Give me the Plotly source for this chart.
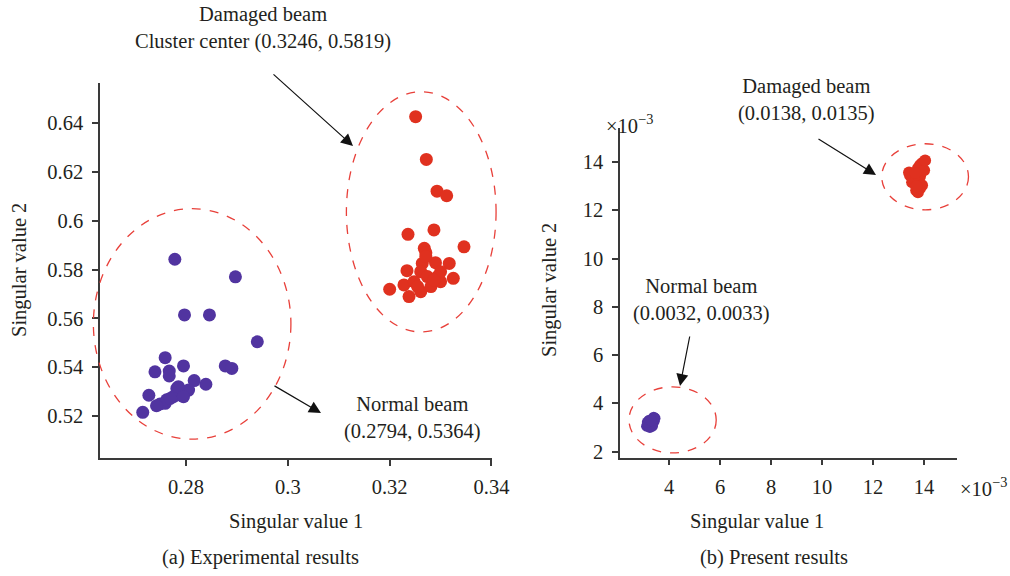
import plotly.graph_objects as go

# ---------------- data ----------------
# (a) Experimental results
exp_normal_x = [0.2778, 0.2897, 0.2797, 0.2846, 0.2940, 0.2759, 0.2795, 0.2739, 0.2767, 0.2767,
                0.2877, 0.2890, 0.2816, 0.2839, 0.2727, 0.2715, 0.2782, 0.2798, 0.2788, 0.2775,
                0.2762, 0.2749, 0.2759, 0.2805, 0.2769, 0.2742, 0.2785, 0.2795]
exp_normal_y = [0.5842, 0.5770, 0.5614, 0.5614, 0.5504, 0.5439, 0.5405, 0.5381, 0.5384, 0.5364,
                0.5405, 0.5395, 0.5345, 0.5330, 0.5285, 0.5215, 0.5313, 0.5300, 0.5286, 0.5279,
                0.5266, 0.5249, 0.5252, 0.5306, 0.5272, 0.5242, 0.5320, 0.5279]
exp_damaged_x = [0.3251, 0.3272, 0.3293, 0.3312, 0.3236, 0.3287, 0.3346, 0.3268, 0.3271, 0.3264,
                 0.3290, 0.3317, 0.3234, 0.3261, 0.3300, 0.3325, 0.3200, 0.3228, 0.3238, 0.3261,
                 0.3281, 0.3300, 0.3248, 0.3274, 0.3294, 0.3255, 0.3287, 0.3271]
exp_damaged_y = [0.6426, 0.6251, 0.6121, 0.6102, 0.5944, 0.5962, 0.5893, 0.5887, 0.5869, 0.5825,
                 0.5828, 0.5825, 0.5795, 0.5791, 0.5791, 0.5764, 0.5719, 0.5737, 0.5689, 0.5709,
                 0.5730, 0.5750, 0.5750, 0.5771, 0.5771, 0.5730, 0.5757, 0.5853]

# (b) Present results (values in units of 1e-3)
pre_normal_x = [3.12, 3.20, 3.28, 3.35, 3.42, 3.45, 3.40, 3.30, 3.18, 3.25, 3.35, 3.15, 3.22, 3.38, 3.30]
pre_normal_y = [3.05, 3.08, 3.10, 3.15, 3.25, 3.38, 3.42, 3.20, 3.15, 3.00, 3.05, 3.22, 3.30, 3.35, 3.28]
pre_damaged_x = [13.84, 13.92, 13.76, 13.45, 13.61, 13.84, 13.53, 13.76, 13.69, 13.76, 13.84, 13.92,
                 13.41, 14.00, 14.04, 13.65, 13.70]
pre_damaged_y = [13.87, 13.95, 13.74, 13.45, 13.32, 13.41, 13.16, 13.12, 12.83, 12.75, 12.91, 13.04,
                 13.57, 13.66, 14.07, 13.55, 13.00]

# cluster ellipses: (cx, cy, rx, ry) in data units
exp_ellipses = [(0.2812, 0.5577, 0.0194, 0.0472), (0.3262, 0.6036, 0.0147, 0.0492)]
pre_ellipses = [(4.14, 3.31, 1.71, 1.37), (14.04, 13.39, 1.70, 1.37)]

x1_ticks = [0.28, 0.30, 0.32, 0.34]
x1_ticktext = ["0.28", "0.3", "0.32", "0.34"]
y1_ticks = [0.52, 0.54, 0.56, 0.58, 0.60, 0.62, 0.64]
y1_ticktext = ["0.52", "0.54", "0.56", "0.58", "0.6", "0.62", "0.64"]
x2_ticks = [4, 6, 8, 10, 12, 14]
y2_ticks = [2, 4, 6, 8, 10, 12, 14]

# ---------------- layout geometry ----------------
W, H = 1010, 576
FONT = "Liberation Serif, Times New Roman, serif"
TXT = "#231F20"
AX = "#3a3a3a"
PURPLE = "#5134A0"
RED = "#E0311F"

x1_range = [0.2631, 0.3401]
y1_range = [0.50279, 0.65639]
x2_range = [2.078, 15.29]
y2_range = [1.743, 15.40]
x1_dom = [100 / W, 492 / W]
y1_dom = [1 - 458 / H, 1 - 83 / H]
x2_dom = [620 / W, 957 / W]
y2_dom = [1 - 457.7 / H, 1 - 128.3 / H]


def px(x):
    return x / W


def py(y):
    return 1 - y / H


def data_to_paper(v, rng, dom):
    return dom[0] + (v - rng[0]) / (rng[1] - rng[0]) * (dom[1] - dom[0])


fig = go.Figure()

fig.add_trace(go.Scatter(x=exp_normal_x, y=exp_normal_y, mode="markers", xaxis="x", yaxis="y",
                         marker=dict(color=PURPLE, size=13, line=dict(width=0)), showlegend=False))
fig.add_trace(go.Scatter(x=exp_damaged_x, y=exp_damaged_y, mode="markers", xaxis="x", yaxis="y",
                         marker=dict(color=RED, size=13, line=dict(width=0)), showlegend=False))
fig.add_trace(go.Scatter(x=pre_normal_x, y=pre_normal_y, mode="markers", xaxis="x2", yaxis="y2",
                         marker=dict(color=PURPLE, size=11, line=dict(width=0)), showlegend=False))
fig.add_trace(go.Scatter(x=pre_damaged_x, y=pre_damaged_y, mode="markers", xaxis="x2", yaxis="y2",
                         marker=dict(color=RED, size=12, line=dict(width=0)), showlegend=False))

shapes = []
for (cx, cy, rx, ry) in exp_ellipses:
    shapes.append(dict(type="circle", xref="paper", yref="paper",
                       x0=data_to_paper(cx - rx, x1_range, x1_dom), x1=data_to_paper(cx + rx, x1_range, x1_dom),
                       y0=data_to_paper(cy - ry, y1_range, y1_dom), y1=data_to_paper(cy + ry, y1_range, y1_dom),
                       line=dict(color="#E8403A", width=1.3, dash="dash")))
for (cx, cy, rx, ry) in pre_ellipses:
    shapes.append(dict(type="circle", xref="paper", yref="paper",
                       x0=data_to_paper(cx - rx, x2_range, x2_dom), x1=data_to_paper(cx + rx, x2_range, x2_dom),
                       y0=data_to_paper(cy - ry, y2_range, y2_dom), y1=data_to_paper(cy + ry, y2_range, y2_dom),
                       line=dict(color="#E8403A", width=1.3, dash="dash")))

axis_common = dict(showline=True, linecolor=AX, linewidth=1.5, ticks="outside", ticklen=6,
                   tickwidth=1.5, tickcolor=AX, showgrid=False, zeroline=False,
                   tickfont=dict(family=FONT, size=20.5, color=TXT), mirror=False)

fig.update_layout(
    autosize=True, margin=dict(l=0, r=0, t=0, b=0, autoexpand=False),
    paper_bgcolor="white", plot_bgcolor="white",
    font=dict(family=FONT, size=20.5, color=TXT),
    xaxis=dict(domain=x1_dom, range=x1_range, tickvals=x1_ticks, ticktext=x1_ticktext,
               anchor="y", ticklabelstandoff=4, **axis_common),
    yaxis=dict(domain=y1_dom, range=y1_range, tickvals=y1_ticks, ticktext=y1_ticktext,
               anchor="x", ticklabelstandoff=5, **axis_common),
    xaxis2=dict(domain=x2_dom, range=x2_range, tickvals=x2_ticks, anchor="y2",
                ticklabelstandoff=4, **axis_common),
    yaxis2=dict(domain=y2_dom, range=y2_range, tickvals=y2_ticks, anchor="x2",
                ticklabelstandoff=5, **axis_common),
    shapes=shapes,
)

ann = []


def text(x, y, s, angle=0, size=20.5, xanchor="center"):
    ann.append(dict(x=px(x), y=py(y), xref="paper", yref="paper", text=s, showarrow=False,
                    xanchor=xanchor, yanchor="middle", textangle=angle,
                    font=dict(family=FONT, size=size, color=TXT)))


def arrow(tipx, tipy, tailx, taily):
    ann.append(dict(x=px(tipx), y=py(tipy), xref="paper", yref="paper", text="",
                    showarrow=True, ax=tailx - tipx, ay=taily - tipy, axref="pixel", ayref="pixel",
                    arrowhead=2, arrowsize=2, arrowwidth=1.2, arrowcolor="#111111", standoff=0))


text(263, 28, "Damaged beam<br>Cluster center (0.3246, 0.5819)")
arrow(353, 146, 272, 73)
text(412, 418, "Normal beam<br>(0.2794, 0.5364)")
arrow(321, 413, 273, 385)
text(806, 100, "Damaged beam<br>(0.0138, 0.0135)")
arrow(876, 175, 817, 138)
text(701, 300, "Normal beam<br>(0.0032, 0.0033)")
arrow(680, 386, 690, 335)

text(296, 521, "Singular value 1")
text(757, 521, "Singular value 1")
text(19, 270, "Singular value 2", angle=-90)
text(549, 290, "Singular value 2", angle=-90)
text(260, 557, "(a) Experimental results")
text(774, 557, "(b) Present results")
text(604, 124, "×10<sup>−3</sup>", xanchor="left")
text(1009, 487, "×10<sup>−3</sup>", xanchor="right")

fig.update_layout(annotations=ann)
fig.write_html("out.html", config={"responsive": True})
